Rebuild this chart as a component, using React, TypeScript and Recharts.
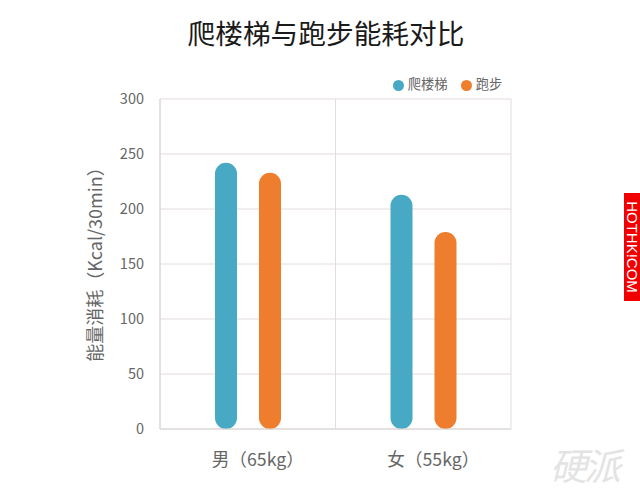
import { BarChart, Bar, XAxis, YAxis, CartesianGrid, Legend, Label } from 'recharts';

const categories = ['男（65kg）', '女（55kg）'];
const stairs = [242, 213];
const running = [233, 179];
const yTicks = [0, 50, 100, 150, 200, 250, 300];

const data = categories.map((name, i) => ({ name, stairs: stairs[i], running: running[i] }));

const FONT = '"Noto Sans CJK SC", "Noto Sans", sans-serif';

export default function App() {
  return (
    <div style={{ position: 'absolute', left: 0, top: 0, width: 640, height: 494, background: '#fff', fontFamily: FONT, overflow: 'hidden' }}>
      <div style={{ position: 'absolute', left: 0, top: 12, width: 652, textAlign: 'center', fontSize: 27.7, lineHeight: '40px', color: '#1a1a1a' }}>
        爬楼梯与跑步能耗对比
      </div>
      <BarChart
        width={640}
        height={494}
        data={data}
        barSize={22}
        barGap={22}
        margin={{ top: 99, right: 129, left: 80, bottom: 0 }}
        style={{ position: 'absolute', left: 0, top: 0 }}
      >
        <CartesianGrid
          stroke="#e4dcdc"
          verticalCoordinatesGenerator={({ offset }: any) => [
            offset.left,
            offset.left + offset.width / 2,
            offset.left + offset.width,
          ]}
        />
        <XAxis
          dataKey="name"
          axisLine={{ stroke: '#d8d4d4' }}
          tickLine={false}
          tick={{ fill: '#666', fontSize: 17.7, fontFamily: FONT, dx: 10 }}
          tickMargin={18}
          height={65}
        />
        <YAxis
          domain={[0, 300]}
          ticks={yTicks}
          width={80}
          axisLine={{ stroke: '#d8d4d4' }}
          tickLine={false}
          tick={{ fill: '#666', fontSize: 14.5, fontFamily: FONT }}
          tickMargin={10}
        >
          <Label
            value="能量消耗（Kcal/30min）"
            angle={-90}
            position="insideLeft"
            offset={16}
            dy={-4}
            style={{ fill: '#666', fontSize: 18, fontFamily: FONT, textAnchor: 'middle' }}
          />
        </YAxis>
        <Legend
          layout="horizontal"
          align="center"
          verticalAlign="middle"
          iconType="circle"
          iconSize={11}
          wrapperStyle={{ position: 'absolute', left: 379, top: 74, width: 150, fontSize: 13.3, fontFamily: FONT, textAlign: 'left' }}
          formatter={(value: string) => <span style={{ color: '#666', paddingRight: 3 }}>{value}</span>}
        />
        <Bar dataKey="stairs" name="爬楼梯" fill="#47a9c4" radius={11} isAnimationActive={false} />
        <Bar dataKey="running" name="跑步" fill="#ef7d2e" radius={11} isAnimationActive={false} />
      </BarChart>
      <div style={{ position: 'absolute', left: 624, top: 193, width: 16, height: 108, background: '#f00000', overflow: 'hidden' }}>
        <div style={{ position: 'absolute', left: 16, top: 0, width: 108, height: 16, lineHeight: '16px', transform: 'rotate(90deg)', transformOrigin: '0 0', color: '#fff', fontSize: 15, fontFamily: 'Liberation Sans, sans-serif', textAlign: 'center', whiteSpace: 'nowrap' }}>
          HOTHK!COM
        </div>
      </div>
      <div style={{ position: 'absolute', left: 550, top: 441, fontSize: 37, lineHeight: '46px', fontStyle: 'italic', color: '#e3e3e3', letterSpacing: -3 }}>
        硬派
      </div>
    </div>
  );
}
